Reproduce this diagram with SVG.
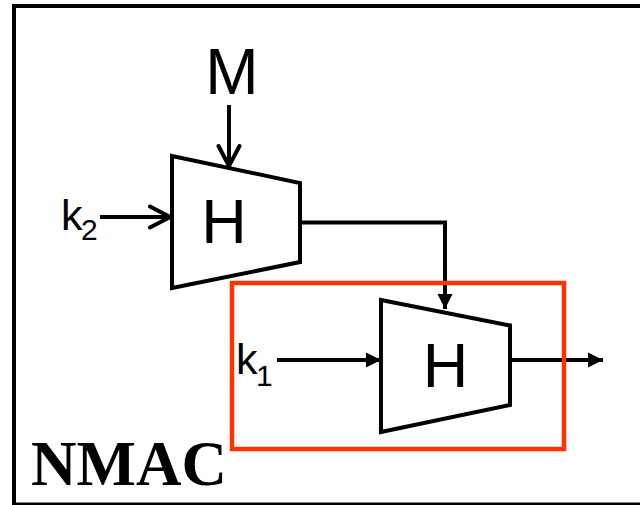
<svg xmlns="http://www.w3.org/2000/svg" width="640" height="505" viewBox="0 0 640 505">
<style>
.ln{fill:none;stroke:#000;stroke-width:4}
.blk{fill:#fff;stroke:#000;stroke-width:4;stroke-linejoin:miter}
.t{font-family:"Liberation Sans",Arial,sans-serif;fill:#000}
</style>
<defs>
<marker id="fill" markerUnits="userSpaceOnUse" markerWidth="16" markerHeight="16" viewBox="0 0 16 16" refX="15" refY="8" orient="auto">
<path d="M0,0.5 L15,8 L0,15.5 Z" fill="#000"/>
</marker>
<marker id="open" markerUnits="userSpaceOnUse" markerWidth="26" markerHeight="26" viewBox="0 0 26 26" refX="22" refY="13" orient="auto">
<path d="M2,2.5 L22,13 L2,23.5" fill="none" stroke="#000" stroke-width="4" stroke-linecap="round"/>
</marker>
</defs>
<rect x="14" y="6" width="640" height="498.5" fill="#fff" stroke="#000" stroke-width="4"/>
<g id="connectors">
<line class="ln" x1="229" y1="105" x2="229" y2="166" marker-end="url(#open)"/>
<line class="ln" x1="100" y1="217" x2="170" y2="217" marker-end="url(#open)"/>
<path class="ln" d="M300,222.5 H445 V309" marker-end="url(#fill)"/>
<line class="ln" x1="277" y1="360" x2="381" y2="360" marker-end="url(#fill)"/>
<line class="ln" x1="510" y1="360" x2="603" y2="360" marker-end="url(#fill)"/>
</g>
<g id="H1">
<polygon class="blk" points="172,156 300,183 300,262 172,288"/>
<text class="t" x="224" y="243" font-size="63" text-anchor="middle">H</text>
</g>
<g id="nmac-box">
<rect x="232" y="283" width="332" height="166" fill="none" stroke="#FF3300" stroke-width="4.5"/>
</g>
<g id="H2">
<polygon class="blk" points="381,300 510,325.5 510,405 381,432"/>
<text class="t" x="445.5" y="387" font-size="63" text-anchor="middle">H</text>
</g>
<g id="M">
<text class="t" x="232" y="94" font-size="64" text-anchor="middle">M</text>
</g>
<g id="k2">
<text class="t" x="61" y="230" font-size="43">k</text>
<text class="t" x="81" y="240" font-size="30">2</text>
</g>
<g id="k1">
<text class="t" x="236" y="374" font-size="43">k</text>
<text class="t" x="256" y="386" font-size="30">1</text>
</g>
<g id="label">
<text x="31" y="485" font-family="'Liberation Serif','Times New Roman',serif" font-weight="bold" font-size="63" fill="#000">NMAC</text>
</g>
</svg>
